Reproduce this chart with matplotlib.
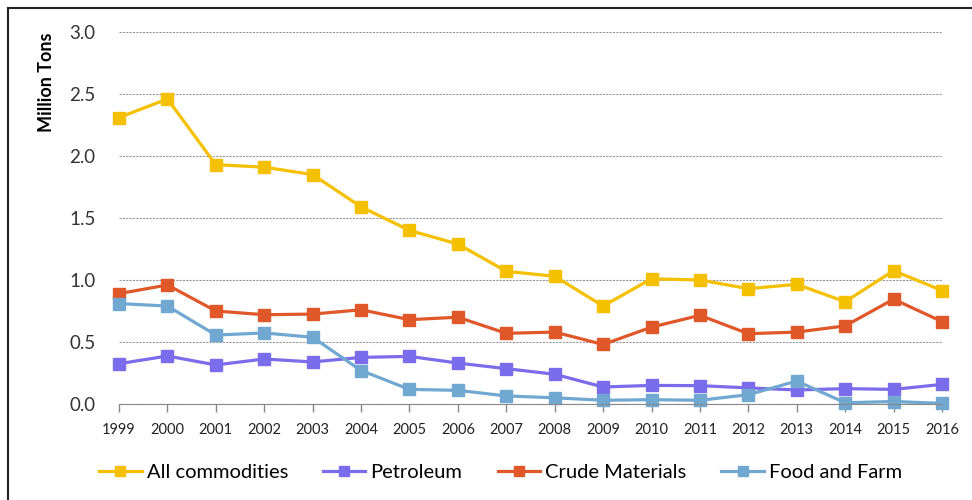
import matplotlib
matplotlib.use("Agg")
import matplotlib.pyplot as plt
from matplotlib.lines import Line2D

years = list(range(1999, 2017))
all_commodities = [2.31, 2.46, 1.93, 1.91, 1.85, 1.59, 1.40, 1.29, 1.07, 1.03,
                   0.79, 1.01, 1.00, 0.93, 0.965, 0.825, 1.075, 0.915]
petroleum = [0.325, 0.387, 0.315, 0.363, 0.339, 0.376, 0.384, 0.33, 0.285, 0.24,
             0.137, 0.15, 0.148, 0.13, 0.113, 0.124, 0.118, 0.158]
crude_materials = [0.89, 0.96, 0.75, 0.72, 0.725, 0.76, 0.68, 0.70, 0.57, 0.58,
                   0.48, 0.62, 0.715, 0.567, 0.58, 0.63, 0.845, 0.665]
food_and_farm = [0.81, 0.79, 0.556, 0.573, 0.538, 0.27, 0.118, 0.11, 0.065, 0.05,
                 0.03, 0.035, 0.03, 0.075, 0.185, 0.01, 0.02, 0.005]

series = [
    ("All commodities", all_commodities, "#F5C000"),
    ("Petroleum", petroleum, "#7B6CEB"),
    ("Crude Materials", crude_materials, "#E0582A"),
    ("Food and Farm", food_and_farm, "#70A8D2"),
]

plt.rcParams["font.family"] = ["Lato", "DejaVu Sans"]

fig = plt.figure(figsize=(9.72, 5.0), dpi=100)
ax = fig.add_axes([119 / 972, 96 / 500, 823 / 972, 372 / 500])

for name, vals, col in series:
    ax.plot(years, vals, "-s", color=col, lw=2.3, ms=9, label=name, clip_on=False)

ax.set_xlim(1999, 2016)
ax.set_ylim(0, 3.0)
ax.set_xticks(years)
ax.set_yticks([0, 0.5, 1.0, 1.5, 2.0, 2.5, 3.0])
ax.set_yticklabels(["%.1f" % v for v in ax.get_yticks()])
ax.tick_params(axis="y", length=0, pad=17, labelsize=13.5, labelcolor="#333333")
ax.tick_params(axis="x", length=6, width=1, color="#888888", pad=8,
               labelsize=10.5, labelcolor="#222222", direction="out")
for s in ["left", "right", "top"]:
    ax.spines[s].set_visible(False)
ax.spines["bottom"].set_color("#888888")
ax.yaxis.grid(True, linestyle=(0, (2, 1)), color="#999999", lw=0.8)
ax.set_axisbelow(True)
ax.set_ylabel("Million Tons", fontweight="bold", fontsize=13, labelpad=10, loc="top")

handles = [Line2D([], [], color=c, lw=2.3, marker="s", ms=6.5) for _, _, c in series]
fig.legend(handles, [n for n, _, _ in series], loc="center", bbox_to_anchor=(0.515, 0.056),
           ncol=4, frameon=False, fontsize=14.5, handlelength=2.1, handletextpad=0.25,
           columnspacing=1.75)

# frame lines at left and top like the source image
fig.add_artist(Line2D([8 / 972, 8 / 972], [0, 1 - 8 / 500], color="#222222", lw=1.5))
fig.add_artist(Line2D([8 / 972, 1], [1 - 8 / 500, 1 - 8 / 500], color="#222222", lw=1.5))

fig.savefig("out.png", dpi=100)
